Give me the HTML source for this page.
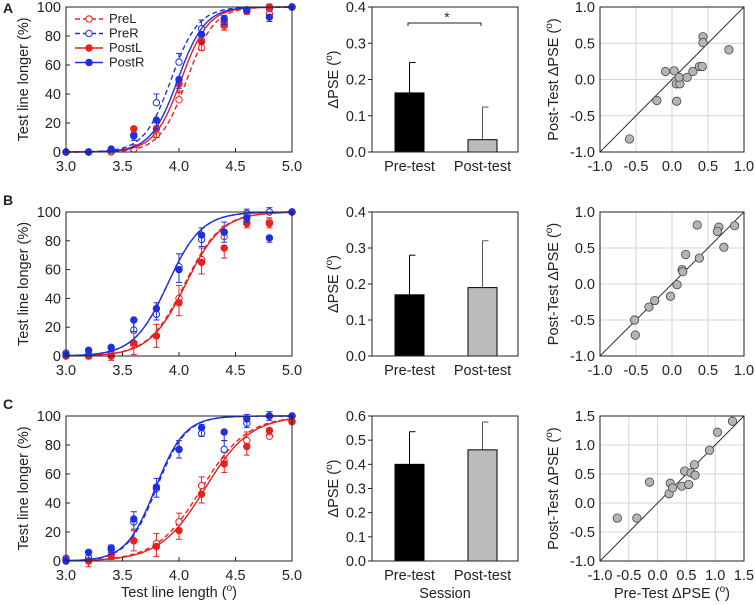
<!DOCTYPE html>
<html><head><meta charset="utf-8">
<style>
body{margin:0;background:#fff}
svg{display:block;font-family:"Liberation Sans",Arial,sans-serif}
text{fill:#222}
</style></head>
<body>
<svg id="fig" width="755" height="605" viewBox="0 0 755 605" xmlns="http://www.w3.org/2000/svg"></svg>
<script>
// ---------- data ----------
const xLevels = [3.0,3.2,3.4,3.6,3.8,4.0,4.2,4.4,4.6,4.8,5.0];
const seriesNames = ["PreL","PreR","PostL","PostR"];
// Panel A psychometric data (%)
const aPreL  = [0,0,0,2,12,36,72,87,98,95,100];
const aPreR  = [0,0,1,12,34,62,85,90,98,99,100];
const aPostL = [0,0,2,16,16,47,76,88,97,100,100];
const aPostR = [0,0,2,11,22,50,81,92,98,93,100];
const aErr   = [0,0,1,3,6,6,6,4,2,3,0];
const aPse   = [4.07,3.93,4.02,3.99];
const aScale = [0.12,0.12,0.12,0.12];
// Panel B
const bPreL  = [0,0,0,8,14,40,67,83,93,93,100];
const bPreR  = [2,1,1,18,29,62,81,86,99,100,100];
const bPostL = [0,0,0,9,14,37,65,75,92,92,100];
const bPostR = [1,4,6,25,33,60,84,86,96,82,100];
const bErr   = [1,2,3,8,8,9,8,7,3,3,0];
const bPse   = [4.05,3.9,4.06,3.9];
const bScale = [0.16,0.15,0.16,0.15];
// Panel C
const cPreL  = [2,0,4,14,12,27,52,69,83,86,96];
const cPreR  = [1,2,8,27,50,77,88,77,95,100,100];
const cPostL = [0,0,4,14,10,21,46,67,79,90,96];
const cPostR = [0,6,9,29,51,77,92,89,98,100,100];
const cErr   = [1,4,3,7,7,6,6,6,6,3,0];
const cPse   = [4.2,3.8,4.23,3.79];
const cScale = [0.2,0.13,0.2,0.13];
// Bar panels
const barCats = ["Pre-test","Post-test"];
const barA = [0.163,0.034]; const barAErr = [0.084,0.090];
const barB = [0.17,0.19];   const barBErr = [0.11,0.13];
const barC = [0.40,0.46];   const barCErr = [0.135,0.115];
// Scatter panels (pre, post)
const scAx = [-0.59,-0.21,-0.09,0.03,0.065,0.06,0.11,0.10,0.21,0.29,0.38,0.42,0.43,0.43,0.79];
const scAy = [-0.82,-0.29,0.11,0.12,-0.30,-0.06,-0.06,0.03,0.03,0.11,0.18,0.18,0.59,0.51,0.41];
const scBx = [-0.51,-0.52,-0.32,-0.24,-0.02,0.07,0.14,0.15,0.19,0.38,0.35,0.65,0.63,0.72,0.87];
const scBy = [-0.71,-0.50,-0.32,-0.23,-0.17,-0.01,0.20,0.17,0.41,0.36,0.82,0.79,0.73,0.51,0.81];
const scCx = [-0.70,-0.36,-0.14,0.20,0.22,0.26,0.42,0.47,0.54,0.58,0.64,0.65,0.90,1.04,1.30];
const scCy = [-0.26,-0.26,0.36,0.16,0.34,0.26,0.29,0.55,0.32,0.52,0.66,0.48,0.91,1.22,1.41];

// ---------- helpers ----------
const NS="http://www.w3.org/2000/svg";
const svg=document.getElementById('fig');
const FS=14.5;
function mk(tag,attrs,parent){const e=document.createElementNS(NS,tag);for(const k in attrs)e.setAttribute(k,attrs[k]);(parent||svg).appendChild(e);return e;}
function txt(s,x,y,opt,parent){const t=mk('text',Object.assign({x:x,y:y,'font-size':FS},opt||{}),parent);t.textContent=s;return t;}
function lin(d0,d1,r0,r1){return v=>r0+(v-d0)/(d1-d0)*(r1-r0);}

const rows=[{top:7,bot:152},{top:212,bot:356},{top:416,bot:561}];
const psy=[
 {data:[aPreL,aPreR,aPostL,aPostR],err:aErr,pse:aPse,sc:aScale},
 {data:[bPreL,bPreR,bPostL,bPostR],err:bErr,pse:bPse,sc:bScale},
 {data:[cPreL,cPreR,cPostL,cPostR],err:cErr,pse:cPse,sc:cScale}];
const colors=["#e8211d","#1f2fe0","#e8211d","#1f2fe0"];
const open=[true,true,false,false];
const dash=["5,3","5,3",null,null];
const labels=["A","B","C"];

rows.forEach((r,ri)=>{
  const g=mk('g',{});
  
  
  const X=lin(3,5,66,292), Y=lin(0,100,r.bot,r.top);
  const pl=txt(labels[ri],3,r.top+(ri==0?6:-7),{'font-weight':'bold','font-size':14},g);
  
  
  [0,20,40,60,80,100].forEach(v=>{
    mk('line',{x1:66,x2:70,y1:Y(v),y2:Y(v),stroke:'#222'},g);
    const t=txt(String(v),61,Y(v)+5,{'text-anchor':'end'},g);
    
    
  });
  [3.0,3.5,4.0,4.5,5.0].forEach(v=>{
    mk('line',{x1:X(v),x2:X(v),y1:r.bot,y2:r.bot-4,stroke:'#222'},g);
    const t=txt(v.toFixed(1),X(v),r.bot+19,{'text-anchor':'middle'},g);
    
    
  });
  const yl=txt('Test line longer (%)',0,0,{'text-anchor':'middle',transform:`translate(28,${(r.top+r.bot)/2}) rotate(-90)`},g);
  
  
  const P=psy[ri];
  P.data.forEach((d,si)=>{
    let pts=[];
    for(let i=0;i<=100;i++){const x=3+i*0.02;const p=100/(1+Math.exp(-(x-P.pse[si])/P.sc[si]));pts.push(X(x).toFixed(1)+','+Y(p).toFixed(1));}
    const c=mk('polyline',{points:pts.join(' '),fill:'none',stroke:colors[si],'stroke-width':1.4},g);
    if(dash[si])c.setAttribute('stroke-dasharray',dash[si]);
    
    
    d.forEach((v,i)=>{
      const e=P.err[i];
      if(e>0){
        const sgn=open[si]?1:-1;
        mk('line',{x1:X(xLevels[i]),x2:X(xLevels[i]),y1:Y(v),y2:Y(v+sgn*e),stroke:colors[si],'stroke-width':1},g);
        mk('line',{x1:X(xLevels[i])-3,x2:X(xLevels[i])+3,y1:Y(v+sgn*e),y2:Y(v+sgn*e),stroke:colors[si],'stroke-width':1},g);
      }
      const m=mk('circle',{cx:X(xLevels[i]),cy:Y(v),r:3.2,fill:open[si]?'#fff':colors[si],stroke:colors[si],'stroke-width':1},g);
      
      
    });
  });
  mk('path',{d:`M66,${r.top} H292 V${r.bot} H66 Z`,fill:'none',stroke:'#222','stroke-width':1},g);
});
// legend
const lg=mk('g',{});


seriesNames.forEach((n,si)=>{
  const y=19+si*14.5;
  const l=mk('line',{x1:75,x2:103,y1:y,y2:y,stroke:colors[si],'stroke-width':1.4},lg);
  if(dash[si])l.setAttribute('stroke-dasharray',dash[si]);
  mk('circle',{cx:89,cy:y,r:3.2,fill:open[si]?'#fff':colors[si],stroke:colors[si]},lg);
  const t=txt(n,109,y+4,{'font-size':13},lg);
  
  
});
const xt=mk('text',{x:179,y:597,'text-anchor':'middle','font-size':FS});
xt.innerHTML='Test line length (<tspan dy="-6" font-size="10">o</tspan><tspan dy="6">)</tspan>';



// bars
const barSets=[{v:barA,e:barAErr,max:0.4,step:0.1},{v:barB,e:barBErr,max:0.4,step:0.1},{v:barC,e:barCErr,max:0.6,step:0.1}];
const barX=[395,468], barW=29, barFill=['#000','#bbb'];
barSets.forEach((B,ri)=>{
  const r=rows[ri];
  const g=mk('g',{});
  
  
  const Y=lin(0,B.max,r.bot,r.top);
  for(let v=0;v<=B.max+1e-9;v+=B.step){
    mk('line',{x1:372,x2:368,y1:Y(v),y2:Y(v),stroke:'#222'},g);
    const t=txt(v.toFixed(1),366,Y(v)+5,{'text-anchor':'end'},g);
    
    
  }
  const yl=mk('text',{'text-anchor':'middle','font-size':FS,transform:`translate(338,${(r.top+r.bot)/2}) rotate(-90)`},g);
  yl.innerHTML='ΔPSE (<tspan dy="-6" font-size="10">o</tspan><tspan dy="6">)</tspan>';
  
  
  B.v.forEach((v,i)=>{
    const cx=barX[i]+barW/2;
    mk('line',{x1:cx,x2:cx,y1:Y(v),y2:Y(v+B.e[i]),stroke:i?'#555':'#000','stroke-width':1},g);
    mk('line',{x1:cx,x2:cx+6,y1:Y(v+B.e[i]),y2:Y(v+B.e[i]),stroke:i?'#555':'#000'},g);
    const b=mk('rect',{x:barX[i],y:Y(v),width:barW,height:r.bot-Y(v),fill:barFill[i],stroke:'#000','stroke-width':1},g);
    
    
    const t=txt(barCats[i],cx,r.bot+19,{'text-anchor':'middle'},g);
    
    
  });
  mk('path',{d:`M372,${r.top} H518 V${r.bot} H372 Z`,fill:'none',stroke:'#222'},g);
});
// significance bracket
const br=mk('path',{d:'M408,26 V23 H481 V26',fill:'none',stroke:'#222'});


const st=txt('*',447,22,{'text-anchor':'middle','font-size':14});


const se=txt('Session',445,598,{'text-anchor':'middle'});



// scatter
const scs=[{x:scAx,y:scAy,min:-1,max:1},{x:scBx,y:scBy,min:-1,max:1},{x:scCx,y:scCy,min:-1,max:1.5}];
scs.forEach((S,ri)=>{
  const r=rows[ri];
  const g=mk('g',{});
  
  
  const X=lin(S.min,S.max,600,744), Y=lin(S.min,S.max,r.bot,r.top);
  for(let v=S.min;v<=S.max+1e-9;v+=0.5){
    mk('line',{x1:X(v),x2:X(v),y1:r.top,y2:r.bot,stroke:'#d4d4d4'},g);
    mk('line',{x1:600,x2:744,y1:Y(v),y2:Y(v),stroke:'#d4d4d4'},g);
    const ty=txt(v.toFixed(1),595,Y(v)+5,{'text-anchor':'end'},g);
    
    
    const tx=txt(v.toFixed(1),X(v),r.bot+19,{'text-anchor':'middle'},g);
    
    
  }
  mk('line',{x1:X(S.min),y1:Y(S.min),x2:X(S.max),y2:Y(S.max),stroke:'#333','stroke-width':1},g);
  S.x.forEach((xv,i)=>{
    const c=mk('circle',{cx:X(xv),cy:Y(S.y[i]),r:4.2,fill:'#b5b5b5',stroke:'#444','stroke-width':0.8},g);
    
    
  });
  mk('path',{d:`M600,${r.top} H744 V${r.bot} H600 Z`,fill:'none',stroke:'#222'},g);
  const yl=mk('text',{'text-anchor':'middle','font-size':FS,transform:`translate(558,${(r.top+r.bot)/2}) rotate(-90)`},g);
  yl.innerHTML='Post-Test ΔPSE (<tspan dy="-6" font-size="10">o</tspan><tspan dy="6">)</tspan>';
  
  
});
const sx=mk('text',{x:672,y:598,'text-anchor':'middle','font-size':FS});
sx.innerHTML='Pre-Test ΔPSE (<tspan dy="-6" font-size="10">o</tspan><tspan dy="6">)</tspan>';


</script>
</body></html>
